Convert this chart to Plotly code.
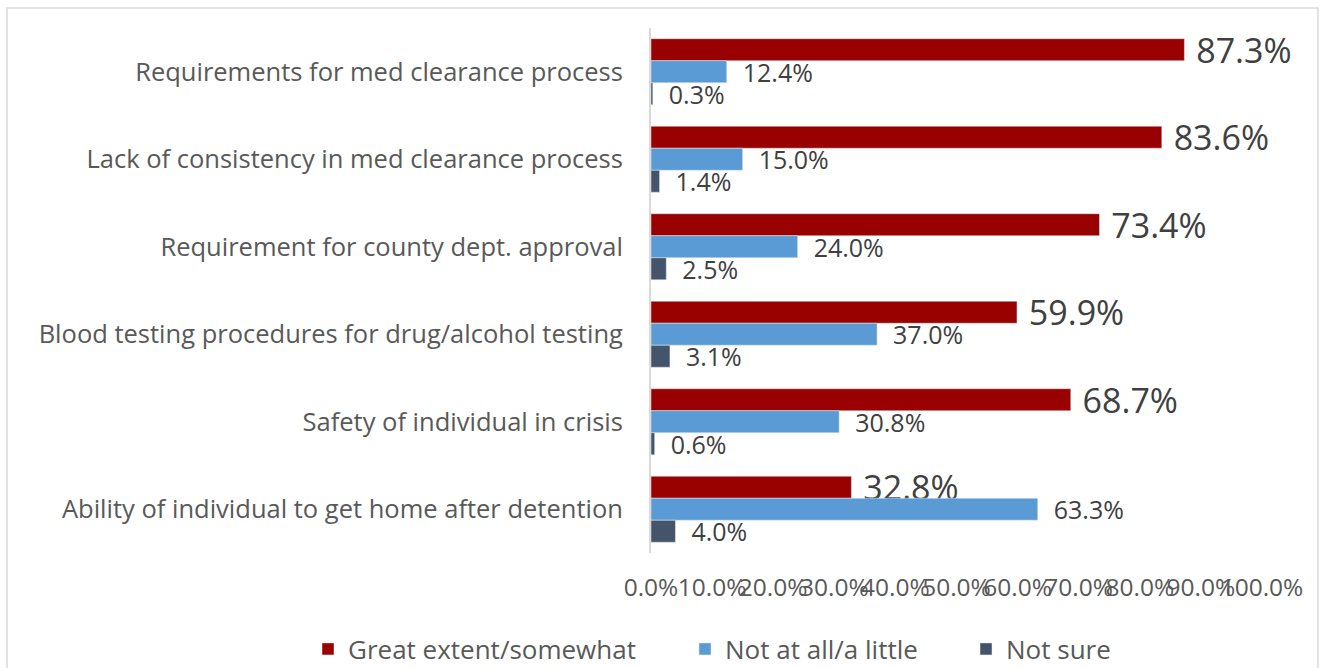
import plotly.graph_objects as go

categories = [
    "Requirements for med clearance process",
    "Lack of consistency in med clearance process",
    "Requirement for county dept. approval",
    "Blood testing procedures for drug/alcohol testing",
    "Safety of individual in crisis",
    "Ability of individual to get home after detention",
]
great_extent = [87.3, 83.6, 73.4, 59.9, 68.7, 32.8]
not_at_all = [12.4, 15.0, 24.0, 37.0, 30.8, 63.3]
not_sure = [0.3, 1.4, 2.5, 3.1, 0.6, 4.0]
tick_vals = [0, 10, 20, 30, 40, 50, 60, 70, 80, 90, 100]

FONT = "Open Sans"
fig = go.Figure()
fig.add_trace(go.Bar(
    y=categories, x=great_extent, orientation="h", name="Great extent/somewhat",
    marker=dict(color="#990000"), legend="legend",
    texttemplate="\u00a0%{x:.1f}%", textposition="outside", constraintext="none",
    textfont=dict(family=FONT, size=34, color="#404040"), cliponaxis=False,
))
fig.add_trace(go.Bar(
    y=categories, x=not_at_all, orientation="h", name="Not at all/a little",
    marker=dict(color="#5b9bd5"), legend="legend2",
    texttemplate="\u00a0\u00a0%{x:.1f}%", textposition="outside", constraintext="none",
    textfont=dict(family=FONT, size=25, color="#404040"), cliponaxis=False,
))
fig.add_trace(go.Bar(
    y=categories, x=not_sure, orientation="h", name="Not sure",
    marker=dict(color="#44546a"), legend="legend3",
    texttemplate="\u00a0\u00a0%{x:.1f}%", textposition="outside", constraintext="none",
    textfont=dict(family=FONT, size=25, color="#404040"), cliponaxis=False,
))

L, R, T, B = 651, 59, 28, 115
W, H = 1321, 668
pw, ph = W - L - R, H - T - B
def px_x(p): return (p - L) / pw
def px_y(p): return 1 - (p - T) / ph

def leg(xpix):
    return dict(orientation="h", x=(xpix - 18) / W, xanchor="left", xref="container",
                y=1 - 649 / H, yref="container", yanchor="middle",
                font=dict(family=FONT, size=26, color="#595959"),
                bgcolor="rgba(0,0,0,0)")

fig.update_layout(
    width=W, height=H,
    margin=dict(l=L, r=R, t=T, b=B, autoexpand=False),
    paper_bgcolor="white", plot_bgcolor="white",
    barmode="group", bargap=0.245, bargroupgap=0,
    font=dict(family=FONT, color="#595959"),
    showlegend=True,
    legend=leg(326), legend2=leg(703), legend3=leg(984),
    shapes=[dict(type="rect", xref="paper", yref="paper",
                 x0=px_x(7), x1=px_x(1318), y0=px_y(700), y1=px_y(8),
                 line=dict(color="#d9d9d9", width=1.5), layer="below")],
)
fig.update_xaxes(range=[0, 100], tickvals=tick_vals, ticktext=[f"{v:.1f}%" for v in tick_vals],
                 tickangle=0, showgrid=False, zeroline=False, showline=False,
                 tickfont=dict(family=FONT, size=24.5, color="#595959"),
                 ticklabelstandoff=17)
fig.update_yaxes(autorange="reversed", showgrid=False, zeroline=False,
                 showline=True, linecolor="#d9d9d9", linewidth=2,
                 tickfont=dict(family=FONT, size=25.5, color="#595959"),
                 ticklabelstandoff=21)

fig.write_html("out.html", config={"displayModeBar": False},
               post_script="document.body.style.margin='0';document.body.style.overflow='hidden';")
